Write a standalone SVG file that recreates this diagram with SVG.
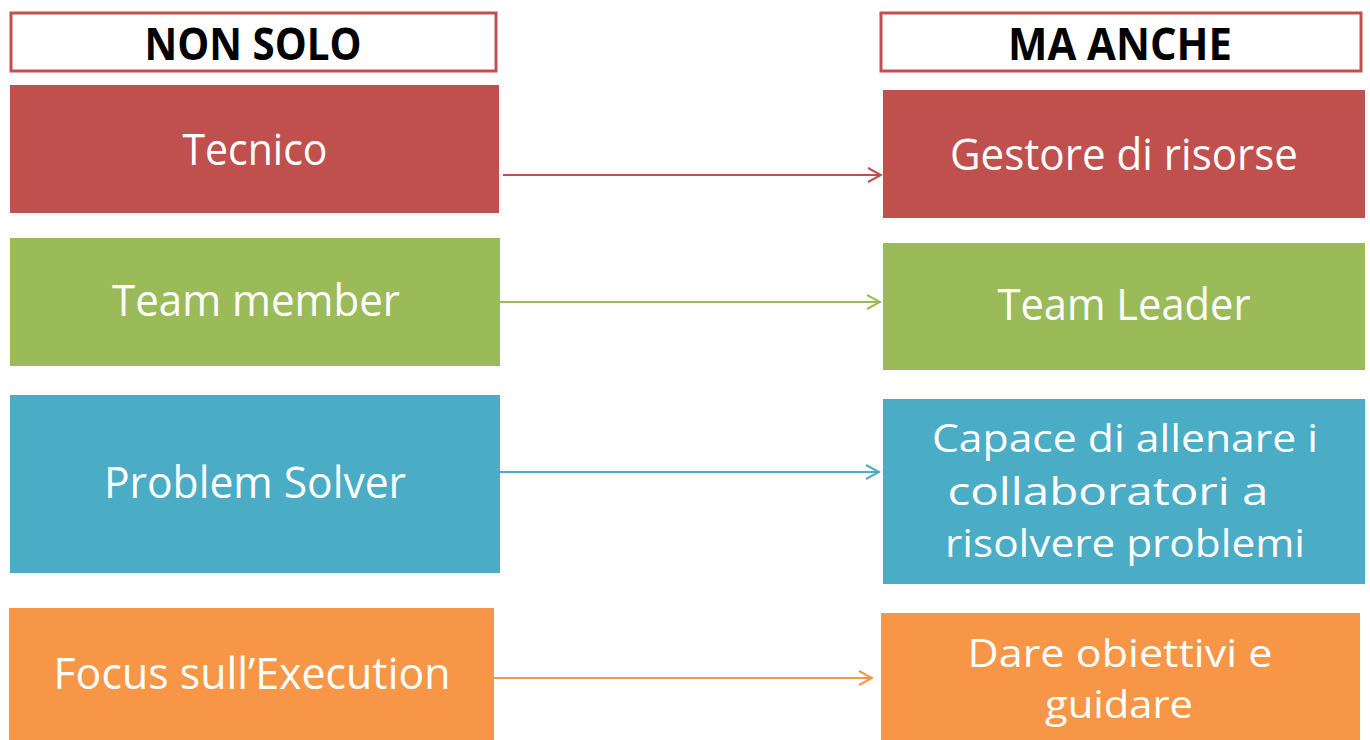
<svg xmlns="http://www.w3.org/2000/svg" width="1370" height="740" viewBox="0 0 1370 740">
<defs>
<style>
.hdr{fill:#fff;stroke:#C0504D;stroke-width:3}
.ht{font-family:"Open Sans","Liberation Sans",sans-serif;font-weight:bold;font-size:45px;fill:#000;text-anchor:middle}
.t{font-family:"Open Sans","Liberation Sans",sans-serif;font-size:43px;fill:#fff;text-anchor:middle}
.m{font-size:38px}
.red{fill:#C0504D}.green{fill:#9BBB59}.blue{fill:#4BACC6}.orange{fill:#F79646}
.c{fill:none;stroke-width:2}
</style>
<marker id="mr" markerWidth="16" markerHeight="16" refX="14" refY="8" orient="auto" markerUnits="userSpaceOnUse"><path d="M1,1 L14,8 L1,15" fill="none" stroke="#C0504D" stroke-width="2"/></marker>
<marker id="mg" markerWidth="16" markerHeight="16" refX="14" refY="8" orient="auto" markerUnits="userSpaceOnUse"><path d="M1,1 L14,8 L1,15" fill="none" stroke="#9BBB59" stroke-width="2"/></marker>
<marker id="mb" markerWidth="16" markerHeight="16" refX="14" refY="8" orient="auto" markerUnits="userSpaceOnUse"><path d="M1,1 L14,8 L1,15" fill="none" stroke="#4BACC6" stroke-width="2"/></marker>
<marker id="mo" markerWidth="16" markerHeight="16" refX="14" refY="8" orient="auto" markerUnits="userSpaceOnUse"><path d="M1,1 L14,8 L1,15" fill="none" stroke="#F79646" stroke-width="2"/></marker>
</defs>
<rect width="1370" height="740" fill="#fff"/>
<g id="hdr-left"><rect class="hdr" x="11" y="13" width="485" height="58"/><text class="ht" x="253" y="60" textLength="217" lengthAdjust="spacingAndGlyphs">NON SOLO</text></g>
<g id="hdr-right"><rect class="hdr" x="881" y="13" width="480" height="58"/><text class="ht" x="1120" y="60" textLength="224" lengthAdjust="spacingAndGlyphs">MA ANCHE</text></g>
<g id="n-tecnico"><rect class="red" x="10" y="85" width="489" height="128"/><text class="t" x="255" y="165" textLength="145" lengthAdjust="spacingAndGlyphs">Tecnico</text></g>
<g id="n-gestore"><rect class="red" x="883" y="90" width="482" height="128"/><text class="t" x="1124" y="170" textLength="348" lengthAdjust="spacingAndGlyphs">Gestore di risorse</text></g>
<g id="n-member"><rect class="green" x="10" y="238" width="490" height="128"/><text class="t" x="256" y="316" textLength="288" lengthAdjust="spacingAndGlyphs">Team member</text></g>
<g id="n-leader"><rect class="green" x="883" y="243" width="482" height="127"/><text class="t" x="1124" y="320" textLength="253" lengthAdjust="spacingAndGlyphs">Team Leader</text></g>
<g id="n-solver"><rect class="blue" x="10" y="395" width="490" height="178"/><text class="t" x="255" y="498" textLength="302" lengthAdjust="spacingAndGlyphs">Problem Solver</text></g>
<g id="n-capace"><rect class="blue" x="883" y="399" width="482" height="185"/>
<text class="t m" x="1125" y="452" textLength="386" lengthAdjust="spacingAndGlyphs">Capace di allenare i</text>
<text class="t m" x="1108" y="505" textLength="321" lengthAdjust="spacingAndGlyphs">collaboratori a</text>
<text class="t m" x="1125" y="557" textLength="360" lengthAdjust="spacingAndGlyphs">risolvere problemi</text></g>
<g id="n-focus"><rect class="orange" x="9" y="608" width="485" height="132"/><text class="t" x="252" y="689" textLength="397" lengthAdjust="spacingAndGlyphs">Focus sull’Execution</text></g>
<g id="n-dare"><rect class="orange" x="881" y="613" width="479" height="127"/>
<text class="t m" x="1120" y="667" textLength="305" lengthAdjust="spacingAndGlyphs">Dare obiettivi e</text>
<text class="t m" x="1119" y="718" textLength="148" lengthAdjust="spacingAndGlyphs">guidare</text></g>
<g id="connectors">
<line class="c" x1="503" y1="175" x2="881" y2="175" stroke="#C0504D" marker-end="url(#mr)"/>
<line class="c" x1="500" y1="302" x2="880" y2="302" stroke="#9BBB59" marker-end="url(#mg)"/>
<line class="c" x1="500" y1="472" x2="879" y2="472" stroke="#4BACC6" marker-end="url(#mb)"/>
<line class="c" x1="494" y1="678" x2="872" y2="678" stroke="#F79646" marker-end="url(#mo)"/>
</g>
</svg>
